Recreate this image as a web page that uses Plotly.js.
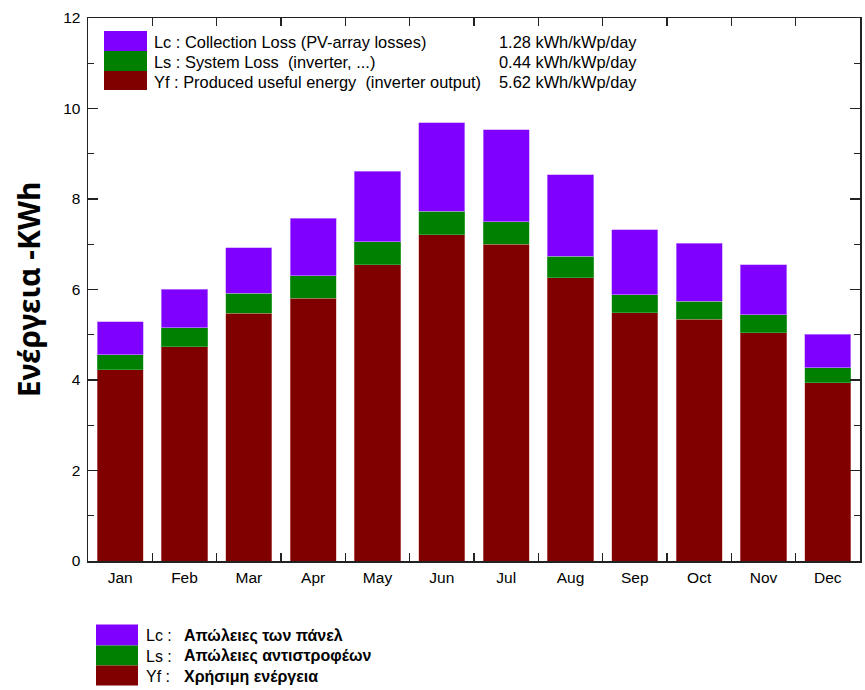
<!DOCTYPE html>
<html>
<head>
<meta charset="utf-8">
<script src="https://cdn.plot.ly/plotly-3.0.1.min.js"></script>
<style>html,body{margin:0;padding:0;background:#fff;}#chart{width:865px;height:690px;}</style>
</head>
<body>
<div id="chart"></div>
<script>
// Data
const months = ["Jan","Feb","Mar","Apr","May","Jun","Jul","Aug","Sep","Oct","Nov","Dec"];
const Yf = [4.23, 4.74, 5.48, 5.81, 6.55, 7.21, 7.00, 6.26, 5.49, 5.34, 5.04, 3.94];
const Ls = [0.33, 0.41, 0.44, 0.49, 0.51, 0.52, 0.50, 0.48, 0.39, 0.40, 0.40, 0.33];
const Lc = [0.73, 0.86, 1.00, 1.28, 1.55, 1.95, 2.03, 1.80, 1.44, 1.28, 1.11, 0.74];
const legendTop = ["Lc : Collection Loss (PV-array losses)", "Ls : System Loss  (inverter, ...)", "Yf : Produced useful energy  (inverter output)"];
const legendTopVals = ["1.28 kWh/kWp/day", "0.44 kWh/kWp/day", "5.62 kWh/kWp/day"];
const legendBottomKeys = ["Lc :", "Ls :", "Yf :"];
const legendBottomText = ["Απώλειες των πάνελ", "Απώλειες αντιστροφέων", "Χρήσιμη ενέργεια"];
const yTitle = "Ενέργεια -KWh";

const colors = ["#8000ff", "#008000", "#800000"];
const W = 865, H = 690;
const M = {l: 88, r: 5, t: 18, b: 128.5};
const pw = W - M.l - M.r, ph = H - M.t - M.b;
const px = x => (x - M.l) / pw;
const py = y => (H - M.b - y) / ph;

const font = "Liberation Sans, Arial, sans-serif";
const traces = [
  {x: months, y: Yf, name: "Yf", type: "bar", marker: {color: colors[2], line: {color: "rgba(220,150,150,0.6)", width: 0.8}}},
  {x: months, y: Ls, name: "Ls", type: "bar", marker: {color: colors[1], line: {color: "rgba(120,200,120,0.5)", width: 0.8}}},
  {x: months, y: Lc, name: "Lc", type: "bar", marker: {color: colors[0], line: {color: "rgba(200,150,255,0.8)", width: 0.8}}}
];

const shapes = [];
const annotations = [];
// top legend
const topBox = [[31, 51], [51, 71], [71, 90]];
for (let i = 0; i < 3; i++) {
  shapes.push({type: "rect", xref: "paper", yref: "paper", x0: px(104), x1: px(147), y0: py(topBox[i][1]), y1: py(topBox[i][0]), fillcolor: colors[i], line: {width: 0}});
  const yc = (topBox[i][0] + topBox[i][1]) / 2 + 1.5;
  annotations.push({xref: "paper", yref: "paper", x: px(152), y: py(yc), xanchor: "left", yanchor: "middle", text: legendTop[i], showarrow: false, font: {family: font, size: 16.4, color: "#000"}});
  annotations.push({xref: "paper", yref: "paper", x: px(639), y: py(yc), xanchor: "right", yanchor: "middle", text: legendTopVals[i], showarrow: false, font: {family: font, size: 16.4, color: "#000"}});
}
// bottom legend
const botBox = [[625, 646], [646, 666], [666, 686]];
for (let i = 0; i < 3; i++) {
  shapes.push({type: "rect", xref: "paper", yref: "paper", x0: px(96), x1: px(138), y0: py(botBox[i][1]), y1: py(botBox[i][0]), fillcolor: colors[i], line: {width: 0}});
  const yc = (botBox[i][0] + botBox[i][1]) / 2 + 1;
  annotations.push({xref: "paper", yref: "paper", x: px(144), y: py(yc), xanchor: "left", yanchor: "middle", text: legendBottomKeys[i], showarrow: false, font: {family: font, size: 16, color: "#000"}});
  annotations.push({xref: "paper", yref: "paper", x: px(182), y: py(yc), xanchor: "left", yanchor: "middle", text: "<b>" + legendBottomText[i] + "</b>", showarrow: false, font: {family: font, size: 16, color: "#000"}});
}

const layout = {
  width: W, height: H,
  margin: M,
  paper_bgcolor: "#fff", plot_bgcolor: "#fff",
  barmode: "stack",
  bargap: 0.28,
  showlegend: false,
  font: {family: font, size: 12, color: "#000"},
  xaxis: {
    type: "category", range: [-0.5, 11.5],
    tickson: "boundaries", ticks: "inside", ticklen: 8, tickwidth: 1.2, tickcolor: "#222",
    showline: true, linecolor: "#222", linewidth: 1.5, mirror: "ticks",
    showgrid: false, zeroline: false,
    tickfont: {family: font, size: 15.5, color: "#000"}, ticklabelstandoff: 2
  },
  yaxis: {
    range: [0, 12], dtick: 2, tick0: 0,
    ticks: "inside", ticklen: 10, tickwidth: 1.2, tickcolor: "#222",
    minor: {dtick: 1, ticks: "inside", ticklen: 6, tickwidth: 1.2, tickcolor: "#222", showgrid: false},
    showline: true, linecolor: "#222", linewidth: 1.5, mirror: "ticks",
    showgrid: false, zeroline: false,
    tickfont: {family: font, size: 15.5, color: "#000"}, ticklabelstandoff: 3,
    title: {text: "<b>" + yTitle + "</b>", font: {family: "Noto Sans, Open Sans, sans-serif", size: 30, color: "#000"}, standoff: 13}
  },
  shapes: shapes,
  annotations: annotations
};

Plotly.newPlot("chart", traces, layout, {displayModeBar: false, staticPlot: true});
</script>
</body>
</html>
